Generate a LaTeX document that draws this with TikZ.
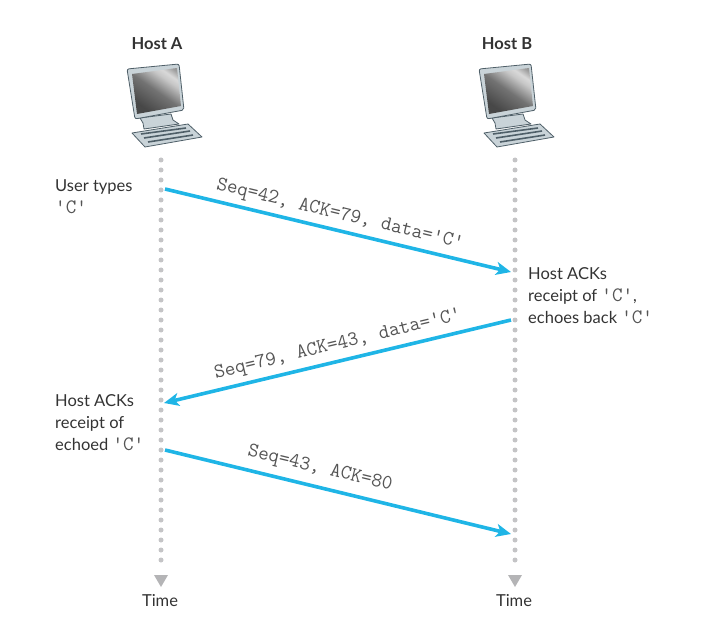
\documentclass[tikz,border=0pt]{standalone}
\usepackage{fontspec}
\setmainfont{Lato}
\usetikzlibrary{arrows.meta}
\definecolor{flow}{HTML}{1FB5E6}
\definecolor{dotgray}{HTML}{C4C4C6}
\definecolor{headgray}{HTML}{B4B4B6}
\definecolor{inktext}{HTML}{333333}
\definecolor{codegray}{HTML}{555555}
\definecolor{bezel}{HTML}{C9D3D8}
\definecolor{edgeblue}{HTML}{4F5F68}
\newcommand{\code}[1]{{\ttfamily\fontsize{20.5}{22}\selectfont\color{codegray}#1}}
\pgfdeclareverticalshading{screenfade}{100bp}{
  color(0bp)=(black!70);
  color(28bp)=(black!72);
  color(50bp)=(black!55);
  color(66bp)=(black!22);
  color(72bp)=(black!15);
  color(80bp)=(black!40);
  color(100bp)=(black!48)}
\tikzset{
  x=1pt,y=-1pt,
  lifeline/.style={draw=dotgray,line width=5pt,line cap=round,dash pattern=on 0pt off 10pt},
  timehead/.style={fill=headgray,draw=none},
  msg/.style={draw=flow,line width=3.6pt,-{Stealth[length=15pt,width=13pt,inset=4pt]}},
  hosttitle/.style={font=\fontsize{16.5}{18}\selectfont\bfseries,text=inktext},
  note/.style={font=\fontsize{16.5}{22}\selectfont,text=inktext,align=left,anchor=north west,inner sep=0pt},
  timelabel/.style={font=\fontsize{16.5}{18}\selectfont,text=inktext},
  msglabel/.style={inner sep=0pt},
  part/.style={draw=edgeblue,line width=.8pt,line join=round},
  computer/.pic={
    % keyboard
    \filldraw[part,fill=bezel] (5,69) -- (61,60) -- (75,73) -- (18,83) -- cycle;
    \draw[edgeblue,line width=1.6pt] (14,70) -- (59,64);
    \draw[edgeblue,line width=1.6pt] (17,74) -- (63,67);
    \draw[edgeblue,line width=1.6pt] (21,78) -- (66,71);
    % stand
    \filldraw[part,fill=bezel] (13,54) -- (44,50) -- (46,56) -- (52,60) -- (17,65) -- (16,59) -- cycle;
    % monitor
    \filldraw[part,fill=bezel,rounded corners=2pt] (0,5) -- (52,0) -- (57,46) -- (8,55) -- cycle;
    \shade[shading=screenfade,shading angle=-35]
      (5,10) -- (50,4) -- (54,42) -- (10,50) -- cycle;
  }
}
\begin{document}
\begin{tikzpicture}
\useasboundingbox (0,0) rectangle (707,631);
% lifelines
\coordinate (atop) at (161,160);
\coordinate (abot) at (161,570);
\coordinate (btop) at (515,160);
\coordinate (bbot) at (515,570);
\path[lifeline] (atop) -- (abot);
\path[lifeline] (btop) -- (bbot);
\fill[timehead] (154,575) -- (168,575) -- (161,587) -- cycle;
\fill[timehead] (508,575) -- (522,575) -- (515,587) -- cycle;
% hosts
\node[hosttitle] (hosta) at (157,44) {Host A};
\node[hosttitle] (hostb) at (507,44) {Host B};
\pic at (127,64) {computer};
\pic at (479,64) {computer};
% times
\node[timelabel] (timea) at (160,601) {Time};
\node[timelabel] (timeb) at (514,601) {Time};
% notes
\node[note] (n1) at (55,179) {User types\\\code{'C'}};
\node[note] (n2) at (528,267) {Host ACKs\\receipt of \code{'C'},\\echoes back \code{'C'}};
\node[note] (n3) at (55,394) {Host ACKs\\receipt of\\echoed \code{'C'}};
% messages
\coordinate (m1s) at (165,189);
\coordinate (m1e) at (511,272);
\coordinate (m2s) at (511,320);
\coordinate (m2e) at (164,403);
\coordinate (m3s) at (165,450);
\coordinate (m3e) at (511,534);
\draw[msg] (m1s) -- (m1e);
\draw[msg] (m2s) -- (m2e);
\draw[msg] (m3s) -- (m3e);
\node[msglabel,rotate=-13.5] (l1) at (340,215) {\code{Seq=42, ACK=79, data='C'}};
\node[msglabel,rotate=13.5] (l2) at (338,345) {\code{Seq=79, ACK=43, data='C'}};
\node[msglabel,rotate=-13.5] (l3) at (320,469) {\code{Seq=43, ACK=80}};
\end{tikzpicture}
\end{document}
